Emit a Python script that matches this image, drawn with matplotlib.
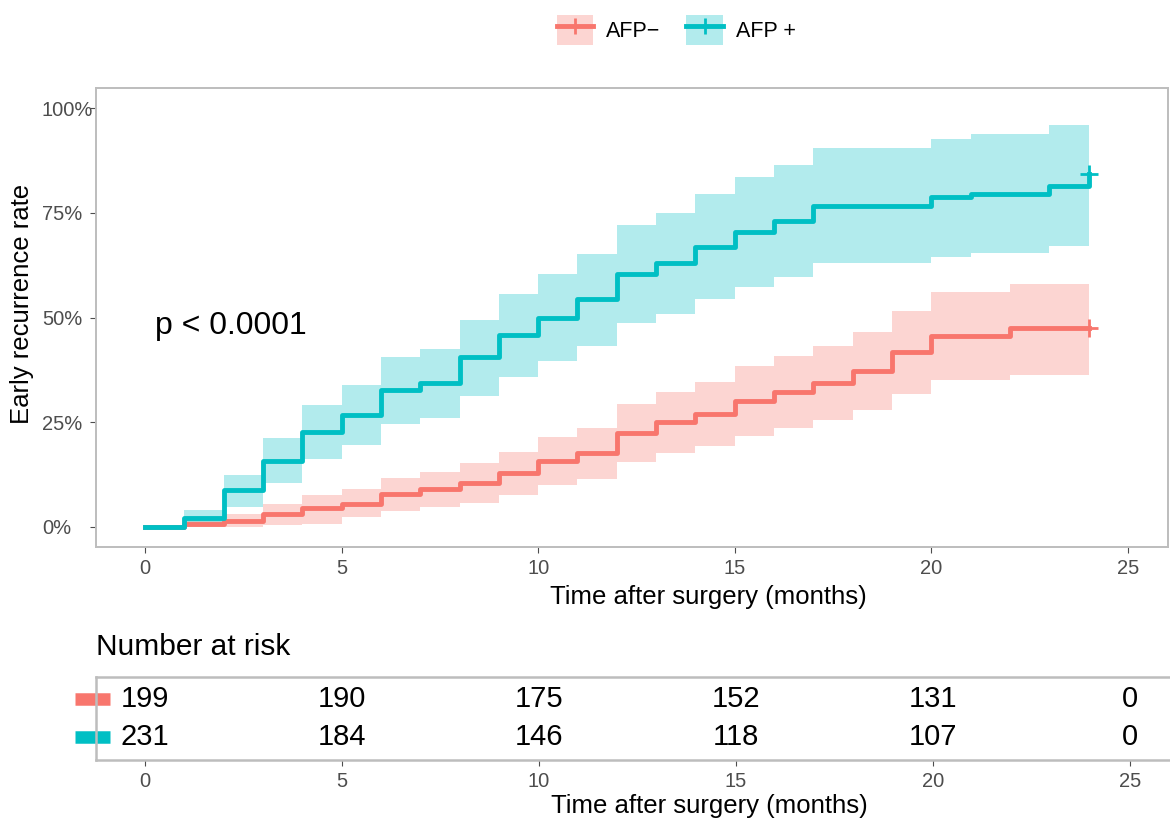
import matplotlib
matplotlib.use("Agg")
import matplotlib.pyplot as plt
from matplotlib.lines import Line2D
from matplotlib.patches import Patch
from matplotlib.transforms import blended_transform_factory
from matplotlib.ticker import PercentFormatter

plt.rcParams['font.family'] = ['Liberation Sans', 'DejaVu Sans']

# --- DATA ---
groups = ['AFP\u2212', 'AFP +']
colors = ['#F8766D', '#00BFC4']

# AFP- (red)
t_neg = [0, 1, 2, 3, 4, 5, 6, 7, 8, 9, 10, 11, 12, 13, 14, 15, 16, 17, 18, 19, 20, 22, 24]
est_neg = [0, .007, .015, .031, .045, .055, .078, .090, .106, .128, .158, .176, .224, .250,
           .269, .301, .323, .344, .372, .418, .456, .474, .474]
up_neg = [0, .017, .031, .055, .076, .090, .116, .132, .152, .180, .214, .236, .293, .323,
          .345, .383, .408, .432, .465, .516, .561, .579, .579]
lo_neg = [0, 0, 0, .005, .007, .023, .037, .048, .058, .076, .100, .114, .154, .176,
          .192, .218, .237, .255, .279, .317, .351, .363, .363]

# AFP+ (teal)
t_pos = [0, 1, 2, 3, 4, 5, 6, 7, 8, 9, 10, 11, 12, 13, 14, 15, 16, 17, 20, 21, 23, 24]
est_pos = [0, .022, .088, .158, .227, .267, .327, .343, .405, .458, .500, .543, .605, .629,
           .669, .703, .731, .766, .787, .795, .815, .842]
up_pos = [0, .041, .124, .212, .291, .339, .406, .424, .494, .555, .603, .652, .721, .749,
          .795, .835, .865, .905, .927, .938, .960, .960]
lo_pos = [0, .003, .048, .106, .162, .196, .246, .259, .313, .359, .396, .433, .486, .508,
          .544, .574, .597, .629, .645, .653, .671, .671]

# number at risk
risk_times = [0, 5, 10, 15, 20, 25]
risk_neg = [199, 190, 175, 152, 131, 0]
risk_pos = [231, 184, 146, 118, 107, 0]

x_ticks = [0, 5, 10, 15, 20, 25]
y_ticks = [0, 0.25, 0.5, 0.75, 1.0]
p_label = 'p < 0.0001'
x_title = 'Time after surgery (months)'
y_title = 'Early recurrence rate'

# --- STYLE ---
W, H = 1170, 823
border = '#BDBDBD'
tick_col = '#4D4D4D'
XLIM = (-1.246, 26.02)

fig = plt.figure(figsize=(W / 100, H / 100), dpi=100)
ax = fig.add_axes([96 / W, 1 - 547 / H, (1168 - 96) / W, (547 - 88) / H])

curves = [(t_neg, est_neg, lo_neg, up_neg), (t_pos, est_pos, lo_pos, up_pos)]
for (t, e, lo, up), col in zip(curves, colors):
    ax.fill_between(t, lo, up, step='post', color=col, alpha=0.3, linewidth=0)
for (t, e, lo, up), col in zip(curves, colors):
    ax.step(t, e, where='post', color=col, lw=3.5, solid_joinstyle='round')
    ax.plot(t[-1], e[-1], marker='+', ms=13, mew=2, color=col)

ax.set_xlim(*XLIM)
ax.set_ylim(-0.048, 1.048)
ax.set_xticks(x_ticks)
ax.set_yticks(y_ticks)
ax.yaxis.set_major_formatter(PercentFormatter(1.0, decimals=0))
for lab in ax.get_yticklabels():
    lab.set_horizontalalignment('left')
ax.tick_params(axis='y', pad=34.5, length=4.5, color=tick_col, labelcolor=tick_col, labelsize=14.5)
ax.tick_params(axis='x', pad=4, length=4.5, color=tick_col, labelcolor=tick_col, labelsize=14.5)
for s in ax.spines.values():
    s.set_color(border)
    s.set_linewidth(1.4)

ax.set_xlabel(x_title, fontsize=18.5)
ax.xaxis.set_label_coords(0.571, -0.083)
ax.set_ylabel(y_title, fontsize=18.5)
ax.yaxis.set_label_coords(-0.058, 0.53)

ax.text(0.25, 0.48, p_label, fontsize=23, ha='left', va='center')

# legend
handles = [(Patch(facecolor=c, alpha=0.3, edgecolor='none'),
            Line2D([], [], color=c, lw=3.5, marker='+', ms=12, mew=2)) for c in colors]
fig.legend(handles, groups, loc='center', bbox_to_anchor=(0.578, 1 - 30 / H), ncol=2,
           frameon=False, fontsize=15.5, handlelength=1.7, handleheight=1.7,
           handletextpad=0.6, columnspacing=1.2)

# --- RISK TABLE ---
tab = fig.add_axes([96 / W, 1 - 760 / H, (1170 - 96) / W, (760 - 677) / H])
tab.set_xlim(*XLIM)
tab.set_ylim(-0.6, 1.58)
rows = [(1, risk_neg, colors[0]), (0, risk_pos, colors[1])]
trans = blended_transform_factory(tab.transAxes, tab.transData)
for yrow, vals, col in rows:
    for t, v in zip(risk_times, vals):
        tab.text(t, yrow, str(v), fontsize=21, ha='center', va='center')
    tab.plot([-0.0195, 0.0135], [yrow, yrow], transform=trans, color=col, lw=9,
             solid_capstyle='butt', clip_on=False)
tab.set_xticks(x_ticks)
tab.set_yticks([])
tab.tick_params(axis='x', pad=4, length=4.5, color=tick_col, labelcolor=tick_col, labelsize=14.5)
for s in tab.spines.values():
    s.set_color(border)
    s.set_linewidth(1.8)
tab.spines['right'].set_visible(False)
tab.set_xlabel(x_title, fontsize=18.5)
tab.xaxis.set_label_coords(0.571, -0.41)

fig.text(96 / W, 1 - 647 / H, 'Number at risk', fontsize=21.5, ha='left', va='center')

fig.savefig('out.png', dpi=100)
